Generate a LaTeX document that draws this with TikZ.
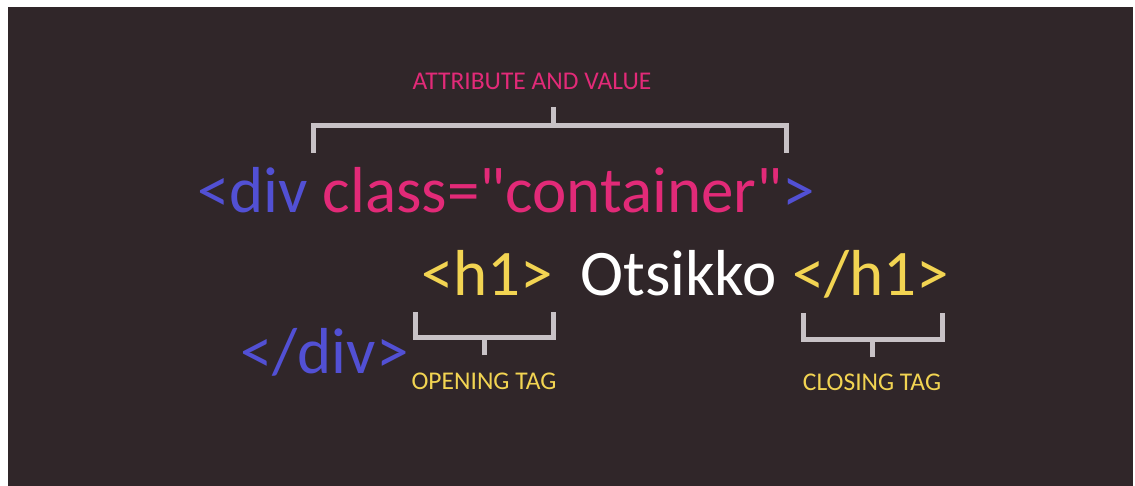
\documentclass[tikz,border=0pt]{standalone}
\usepackage{fontspec}
\setmainfont{Carlito}[Ligatures=TeXOff]
\definecolor{bg}{RGB}{48,38,41}
\definecolor{tagblue}{RGB}{82,80,212}
\definecolor{attrpink}{RGB}{226,42,120}
\definecolor{tagyellow}{RGB}{242,212,82}
\definecolor{brk}{RGB}{200,194,198}
\tikzset{
  big/.style={inner sep=0pt, anchor=base west, font=\fontsize{65}{65}\selectfont},
  small/.style={inner sep=0pt, anchor=base, font=\fontsize{25.5}{26}\selectfont},
  bracket/.style={draw=brk, line width=5pt, line cap=butt, line join=miter}
}
\begin{document}
\begin{tikzpicture}[x=1pt,y=1pt]
\useasboundingbox (0,0) rectangle (1135,-486);
\fill[white] (0,0) rectangle (1135,-486);
\fill[bg] (8,-7) rectangle (1133,-486);
% top label and bracket
\node[small, text=attrpink] (attr) at (532,-90) {ATTRIBUTE AND VALUE};
\coordinate (attrstem) at (553,-107);
\draw[bracket] (313,-153) |- (786,-126) -- (786,-153);
\draw[bracket] (attrstem) -- (553,-126);
% first line
\node[big] (divopen) at (197,-213) {\textcolor{tagblue}{<div} \textcolor{attrpink}{class="container"}\textcolor{tagblue}{>}};
% second line
\node[big, text=tagyellow] (h1open) at (421,-296) {<h1>};
\node[big, text=white] (otsikko) at (580,-296) {Otsikko};
\node[big, text=tagyellow] (h1close) at (792,-296) {</h1>};
% closing div
\node[big, text=tagblue] (divclose) at (240,-373) {</div>};
% opening tag bracket
\draw[bracket] (415,-312) |- (553,-337) -- (553,-312);
\coordinate (openstem) at (484,-355);
\draw[bracket] (openstem) -- (484,-337);
\node[small, text=tagyellow] (openlbl) at (484,-389) {OPENING TAG};
% closing tag bracket
\draw[bracket] (803,-313) |- (942,-339) -- (942,-313);
\coordinate (closestem) at (872,-357);
\draw[bracket] (closestem) -- (872,-339);
\node[small, text=tagyellow] (closelbl) at (872,-390) {CLOSING TAG};
\end{tikzpicture}
\end{document}
